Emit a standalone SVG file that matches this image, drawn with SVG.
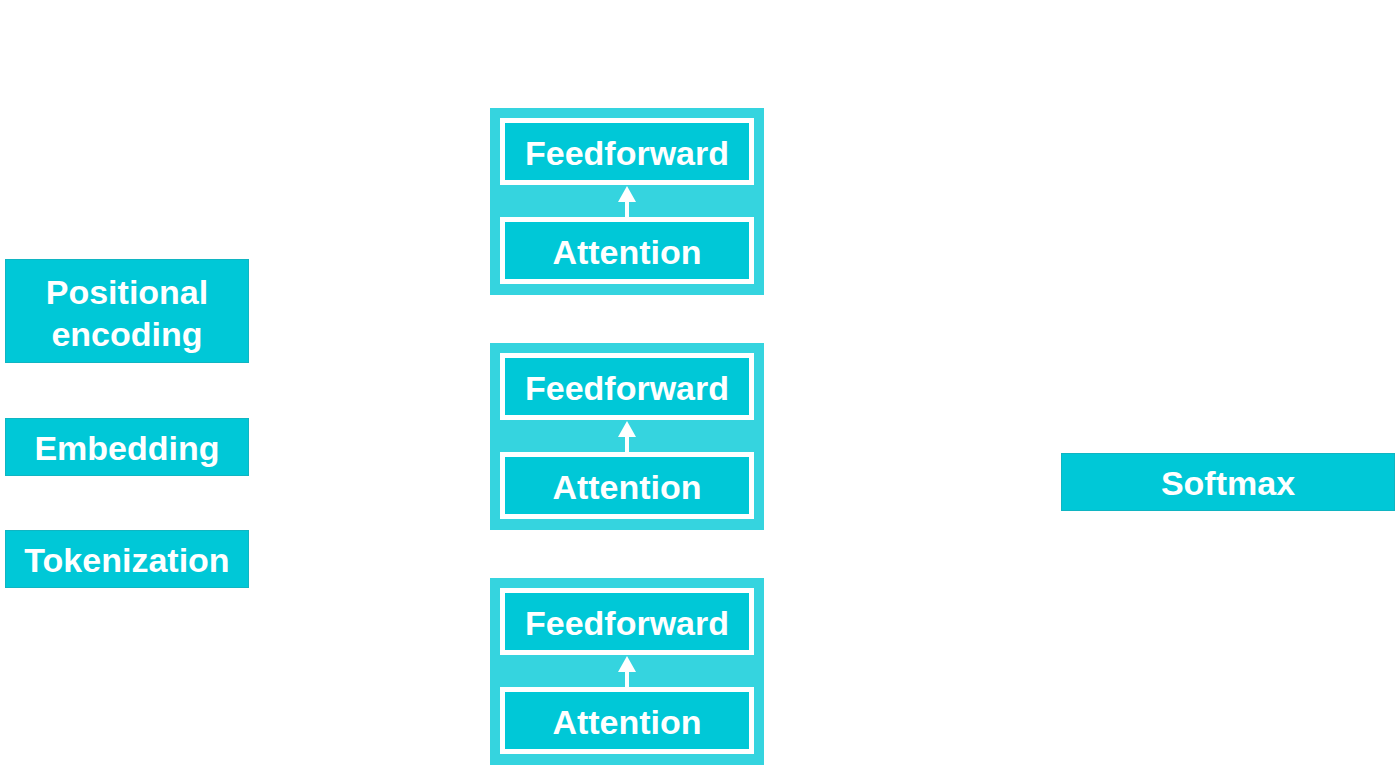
<svg xmlns="http://www.w3.org/2000/svg" width="1400" height="771" viewBox="0 0 1400 771">
<style>
.box{fill:#00C8D7;stroke:#10B5C2;stroke-width:1}
.outer{fill:#35D4DF}
.inner{fill:#00C8D7;stroke:#FFFFFF;stroke-width:5}
.t{font-family:"Liberation Sans",Arial,sans-serif;font-weight:bold;font-size:34px;fill:#FFFFFF;text-anchor:middle}
.arr{fill:#FFFFFF}
</style>
<rect width="1400" height="771" fill="#FFFFFF"/>
<g id="positional-encoding">
<rect class="box" x="5.5" y="259.5" width="243" height="103"/>
<text class="t" x="127" y="304">Positional</text>
<text class="t" x="127" y="346">encoding</text>
</g>
<g id="embedding">
<rect class="box" x="5.5" y="418.5" width="243" height="57"/>
<text class="t" x="127" y="460">Embedding</text>
</g>
<g id="tokenization">
<rect class="box" x="5.5" y="530.5" width="243" height="57"/>
<text class="t" x="127" y="572">Tokenization</text>
</g>
<g id="block1">
<rect class="outer" x="490" y="108" width="274" height="187"/>
<g id="block1-feedforward">
<rect class="inner" x="502.5" y="120.5" width="249" height="62"/>
<text class="t" x="627" y="165" textLength="204" lengthAdjust="spacingAndGlyphs">Feedforward</text>
</g>
<g id="block1-attention">
<rect class="inner" x="502.5" y="219.5" width="249" height="62"/>
<text class="t" x="627" y="264">Attention</text>
</g>
</g>
<g id="block2">
<rect class="outer" x="490" y="343" width="274" height="187"/>
<g id="block2-feedforward">
<rect class="inner" x="502.5" y="355.5" width="249" height="62"/>
<text class="t" x="627" y="400" textLength="204" lengthAdjust="spacingAndGlyphs">Feedforward</text>
</g>
<g id="block2-attention">
<rect class="inner" x="502.5" y="454.5" width="249" height="62"/>
<text class="t" x="627" y="499">Attention</text>
</g>
</g>
<g id="block3">
<rect class="outer" x="490" y="578" width="274" height="187"/>
<g id="block3-feedforward">
<rect class="inner" x="502.5" y="590.5" width="249" height="62"/>
<text class="t" x="627" y="635" textLength="204" lengthAdjust="spacingAndGlyphs">Feedforward</text>
</g>
<g id="block3-attention">
<rect class="inner" x="502.5" y="689.5" width="249" height="62"/>
<text class="t" x="627" y="734">Attention</text>
</g>
</g>
<g id="softmax">
<rect class="box" x="1061.5" y="453.5" width="333" height="57"/>
<text class="t" x="1228" y="495">Softmax</text>
</g>
<g id="connectors">
<g id="arrow1">
<rect class="arr" x="625" y="200" width="4" height="18"/>
<polygon class="arr" points="627,186 618,202 636,202"/>
</g>
<g id="arrow2">
<rect class="arr" x="625" y="435" width="4" height="18"/>
<polygon class="arr" points="627,421 618,437 636,437"/>
</g>
<g id="arrow3">
<rect class="arr" x="625" y="670" width="4" height="18"/>
<polygon class="arr" points="627,656 618,672 636,672"/>
</g>
</g>
</svg>
